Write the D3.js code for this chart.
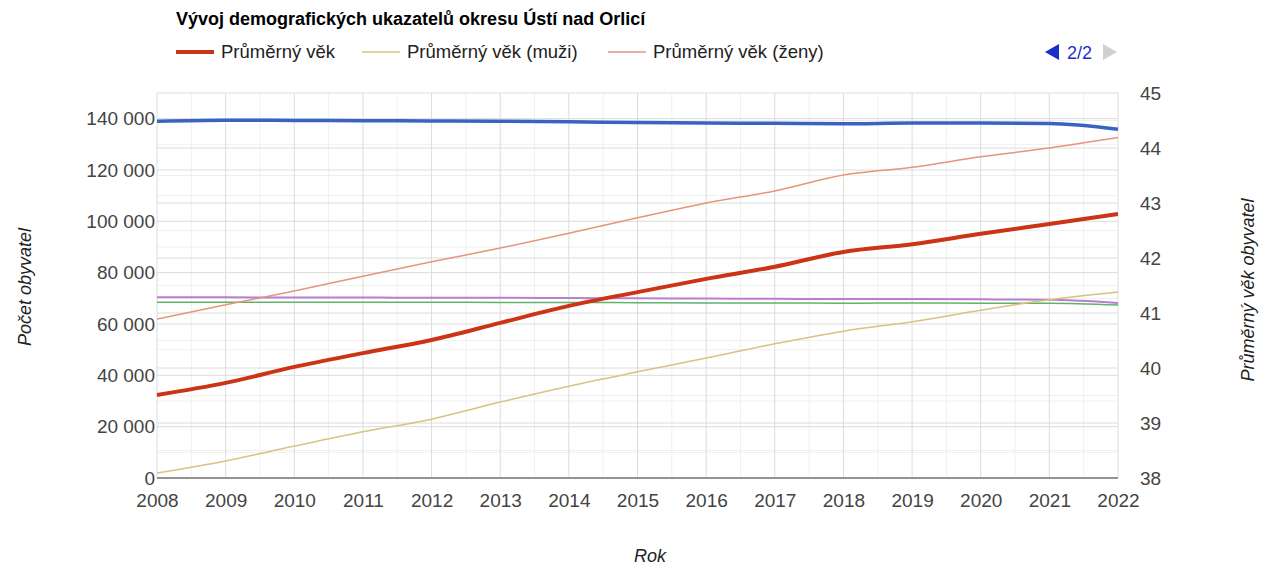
<!DOCTYPE html>
<html>
<head>
<meta charset="utf-8">
<script src="https://cdn.jsdelivr.net/npm/d3@7/dist/d3.min.js"></script>
<style>
  body { margin: 0; background: #fff; }
  text { font-family: "Liberation Sans", Arial, sans-serif; }
</style>
</head>
<body>
<div class="board"></div>
<script>
// Data
var years = [2008, 2009, 2010, 2011, 2012, 2013, 2014, 2015, 2016, 2017, 2018, 2019, 2020, 2021, 2022];

// left axis series (legend page 1, hidden)
var popTotal = [139000, 139400, 139300, 139200, 139100, 139000, 138800, 138500, 138300, 138200, 138000, 138300, 138300, 138100, 135900];
var popWomen = [70400, 70400, 70300, 70300, 70200, 70200, 70100, 70000, 69900, 69800, 69700, 69700, 69600, 69400, 68200];
var popMen   = [68500, 68500, 68500, 68500, 68500, 68400, 68400, 68300, 68200, 68200, 68100, 68200, 68100, 68100, 67400];

// right axis series
var ageAll   = [39.51, 39.73, 40.02, 40.27, 40.51, 40.82, 41.13, 41.38, 41.62, 41.84, 42.11, 42.25, 42.44, 42.62, 42.8];
var ageMen   = [38.09, 38.31, 38.58, 38.84, 39.07, 39.38, 39.67, 39.93, 40.18, 40.44, 40.67, 40.84, 41.05, 41.24, 41.38];
var ageWomen = [40.89, 41.15, 41.4, 41.67, 41.93, 42.18, 42.45, 42.73, 43.0, 43.22, 43.51, 43.65, 43.84, 44.0, 44.19];

var leftTicks = [0, 20000, 40000, 60000, 80000, 100000, 120000, 140000];
var rightTicks = [38, 39, 40, 41, 42, 43, 44, 45];

var legendNames = ['Průměrný věk', 'Průměrný věk (muži)', 'Průměrný věk (ženy)'];

var W = 1266, H = 568;
var plot = { left: 157, right: 1118, top: 93, bottom: 478 };

var svg = d3.select('.board').append('svg')
            .attr('width', W)
            .attr('height', H);

var x = d3.scaleLinear().domain([2008, 2022]).range([plot.left, plot.right]);
var yL = d3.scaleLinear().domain([0, 150000]).range([plot.bottom, plot.top]);
var yR = d3.scaleLinear().domain([38, 45]).range([plot.bottom, plot.top]);

var grid = svg.append('g');

// minor gridlines
grid.selectAll('line.vmin')
    .data(d3.range(2008.5, 2022, 1))
    .enter().append('line')
    .attr('x1', d => x(d)).attr('x2', d => x(d))
    .attr('y1', plot.top).attr('y2', plot.bottom)
    .attr('stroke', '#f0f0f0');
grid.selectAll('line.lmin')
    .data(d3.range(10000, 150000, 20000))
    .enter().append('line')
    .attr('x1', plot.left).attr('x2', plot.right)
    .attr('y1', d => yL(d)).attr('y2', d => yL(d))
    .attr('stroke', '#f0f0f0');
grid.selectAll('line.rmin')
    .data(d3.range(38.5, 45, 1))
    .enter().append('line')
    .attr('x1', plot.left).attr('x2', plot.right)
    .attr('y1', d => yR(d)).attr('y2', d => yR(d))
    .attr('stroke', '#f0f0f0');

// major gridlines
grid.selectAll('line.vmaj')
    .data(years)
    .enter().append('line')
    .attr('x1', d => x(d)).attr('x2', d => x(d))
    .attr('y1', plot.top).attr('y2', plot.bottom)
    .attr('stroke', '#dcdcdc');
grid.selectAll('line.lmaj')
    .data(leftTicks)
    .enter().append('line')
    .attr('x1', plot.left).attr('x2', plot.right)
    .attr('y1', d => yL(d)).attr('y2', d => yL(d))
    .attr('stroke', '#dcdcdc');
grid.selectAll('line.rmaj')
    .data(rightTicks)
    .enter().append('line')
    .attr('x1', plot.left).attr('x2', plot.right)
    .attr('y1', d => yR(d)).attr('y2', d => yR(d))
    .attr('stroke', '#dcdcdc');

// baseline
svg.append('line')
   .attr('x1', plot.left).attr('x2', plot.right)
   .attr('y1', plot.bottom).attr('y2', plot.bottom)
   .attr('stroke', '#777').attr('stroke-width', 1.5);

// axes (labels only)
var fmt = d => d3.format(',')(d).replace(/,/g, '\u00a0');

var axL = svg.append('g')
             .attr('transform', 'translate(' + (plot.left - 2) + ',0)')
             .call(d3.axisLeft(yL).tickValues(leftTicks).tickFormat(fmt).tickSize(0).tickPadding(0));
var axR = svg.append('g')
             .attr('transform', 'translate(' + (plot.right + 22) + ',0)')
             .call(d3.axisRight(yR).tickValues(rightTicks).tickFormat(d3.format('d')).tickSize(0).tickPadding(0));
var axX = svg.append('g')
             .attr('transform', 'translate(0,' + (plot.bottom + 15) + ')')
             .call(d3.axisBottom(x).tickValues(years).tickFormat(d3.format('d')).tickSize(0).tickPadding(0));

[axL, axR, axX].forEach(function(a) {
  a.select('.domain').remove();
  a.selectAll('text').attr('fill', '#444').style('font-size', '19px');
});

// lines
var lineL = d3.line().x((d, i) => x(years[i])).y(d => yL(d)).curve(d3.curveMonotoneX);
var lineR = d3.line().x((d, i) => x(years[i])).y(d => yR(d)).curve(d3.curveMonotoneX);

var series = [
  { data: popMen,   line: lineL, color: '#5fb36a', width: 1.5 },
  { data: popWomen, line: lineL, color: '#b87fcf', width: 2 },
  { data: popTotal, line: lineL, color: '#3a62c2', width: 3.5 },
  { data: ageMen,   line: lineR, color: '#d6c47e', width: 1.5 },
  { data: ageWomen, line: lineR, color: '#e6957a', width: 1.5 },
  { data: ageAll,   line: lineR, color: '#cc3416', width: 4 }
];

svg.selectAll('path.series')
   .data(series)
   .enter().append('path')
   .attr('class', 'series')
   .attr('d', d => d.line(d.data))
   .attr('fill', 'none')
   .attr('stroke', d => d.color)
   .attr('stroke-width', d => d.width)
   .attr('stroke-linejoin', 'round');

// title
svg.append('text')
   .attr('x', 176).attr('y', 25)
   .attr('font-weight', 'bold')
   .style('font-size', '18px')
   .attr('fill', '#000')
   .text('Vývoj demografických ukazatelů okresu Ústí nad Orlicí');

// legend
var legendItems = [
  { name: legendNames[0], color: '#cc3416', width: 4, x: 176 },
  { name: legendNames[1], color: '#d6c47e', width: 1.5, x: 362 },
  { name: legendNames[2], color: '#e6957a', width: 1.5, x: 608 }
];
var leg = svg.selectAll('g.leg')
             .data(legendItems)
             .enter().append('g')
             .attr('transform', d => 'translate(' + d.x + ',52)');
leg.append('line')
   .attr('x1', 0).attr('x2', 38)
   .attr('stroke', d => d.color)
   .attr('stroke-width', d => d.width);
leg.append('text')
   .attr('x', 45).attr('y', 6)
   .style('font-size', '18.5px')
   .attr('fill', '#222')
   .text(d => d.name);

// legend paging
svg.append('path')
   .attr('d', 'M1045,52 L1059,44 L1059,60 Z')
   .attr('fill', '#1a2fc8');
svg.append('text')
   .attr('x', 1067).attr('y', 59)
   .style('font-size', '18px')
   .attr('fill', '#1a2fc8')
   .text('2/2');
svg.append('path')
   .attr('d', 'M1117,52 L1103,44 L1103,60 Z')
   .attr('fill', '#d0d0d0');

// axis titles
svg.append('text')
   .attr('x', 650).attr('y', 562)
   .attr('text-anchor', 'middle')
   .attr('font-style', 'italic')
   .style('font-size', '18px')
   .attr('fill', '#222')
   .text('Rok');
svg.append('text')
   .attr('transform', 'translate(31,287) rotate(-90)')
   .attr('text-anchor', 'middle')
   .attr('font-style', 'italic')
   .style('font-size', '18px')
   .attr('fill', '#222')
   .text('Počet obyvatel');
svg.append('text')
   .attr('transform', 'translate(1254,290) rotate(-90)')
   .attr('text-anchor', 'middle')
   .attr('font-style', 'italic')
   .style('font-size', '18px')
   .attr('fill', '#222')
   .text('Průměrný věk obyvatel');
</script>
</body>
</html>
